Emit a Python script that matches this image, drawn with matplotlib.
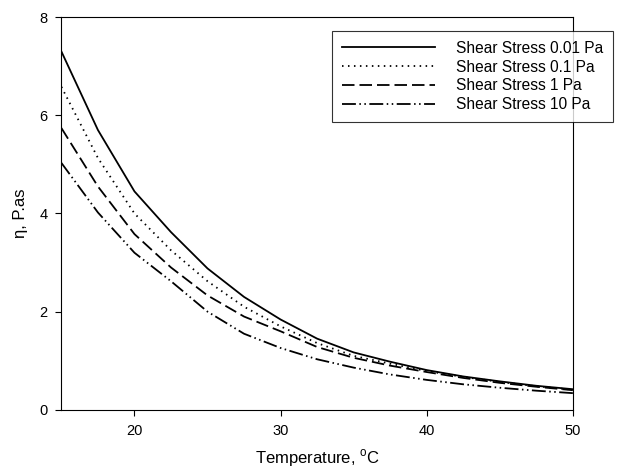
import matplotlib
matplotlib.use("Agg")
import matplotlib.pyplot as plt

plt.rcParams['font.family'] = ['Liberation Sans', 'DejaVu Sans']
plt.rcParams['lines.scale_dashes'] = False
plt.rcParams['mathtext.fontset'] = 'custom'
plt.rcParams['mathtext.rm'] = 'Liberation Sans'

# Viscosity vs temperature at four shear stresses
temperature = [15, 17.5, 20, 22.5, 25, 27.5, 30, 32.5, 35, 37.5, 40, 42.5, 45, 47.5, 50]
eta_001 = [7.30, 5.70, 4.45, 3.62, 2.88, 2.30, 1.84, 1.45, 1.17, 0.98, 0.81, 0.68, 0.58, 0.49, 0.42]
eta_01 = [6.58, 5.13, 4.00, 3.25, 2.62, 2.10, 1.70, 1.36, 1.10, 0.94, 0.79, 0.67, 0.57, 0.48, 0.41]
eta_1 = [5.74, 4.55, 3.58, 2.90, 2.33, 1.90, 1.60, 1.28, 1.06, 0.90, 0.77, 0.65, 0.55, 0.47, 0.40]
eta_10 = [5.03, 4.02, 3.20, 2.62, 2.00, 1.55, 1.26, 1.03, 0.86, 0.72, 0.61, 0.52, 0.45, 0.39, 0.34]

labels = ["Shear Stress 0.01 Pa", "Shear Stress 0.1 Pa", "Shear Stress 1 Pa", "Shear Stress 10 Pa"]
x_ticks = [20, 30, 40, 50]
y_ticks = [0, 2, 4, 6, 8]

fig = plt.figure(figsize=(6.33, 4.76), dpi=100)
ax = fig.add_axes([0.097, 0.139, 0.808, 0.825])

lw = 1.3
ax.plot(temperature, eta_001, color='black', lw=lw, linestyle='-', label=labels[0])
ax.plot(temperature, eta_01, color='black', lw=lw, linestyle=(0, (1.1, 3.2)), label=labels[1])
ax.plot(temperature, eta_1, color='black', lw=lw, linestyle=(0, (9.0, 3.6)), label=labels[2])
ax.plot(temperature, eta_10, color='black', lw=lw,
        linestyle=(0, (10.0, 2.5, 1.1, 2.5, 1.1, 2.5)), label=labels[3])

ax.set_xlim(15, 50)
ax.set_ylim(0, 8)
ax.set_xticks(x_ticks)
ax.set_yticks(y_ticks)
ax.tick_params(direction='out', length=4, width=0.8, labelsize=10.5, pad=6)
for sp in ax.spines.values():
    sp.set_linewidth(0.8)

ax.set_xlabel('Temperature, $^{\\mathrm{o}}$C', fontsize=12, labelpad=7)
ax.set_ylabel('\u03b7, P.as', fontsize=12, labelpad=8)

fs = 11.2
leg = ax.legend(loc='upper left', bbox_to_anchor=(332 / 633, 1 - 31 / 476),
                bbox_transform=fig.transFigure, fontsize=fs, frameon=True,
                fancybox=False, edgecolor='black', handlelength=6.0,
                handletextpad=1.35, labelspacing=0.25, borderpad=0.62,
                borderaxespad=0)
leg.get_frame().set_linewidth(0.8)

fig.savefig('out.png', dpi=100)
